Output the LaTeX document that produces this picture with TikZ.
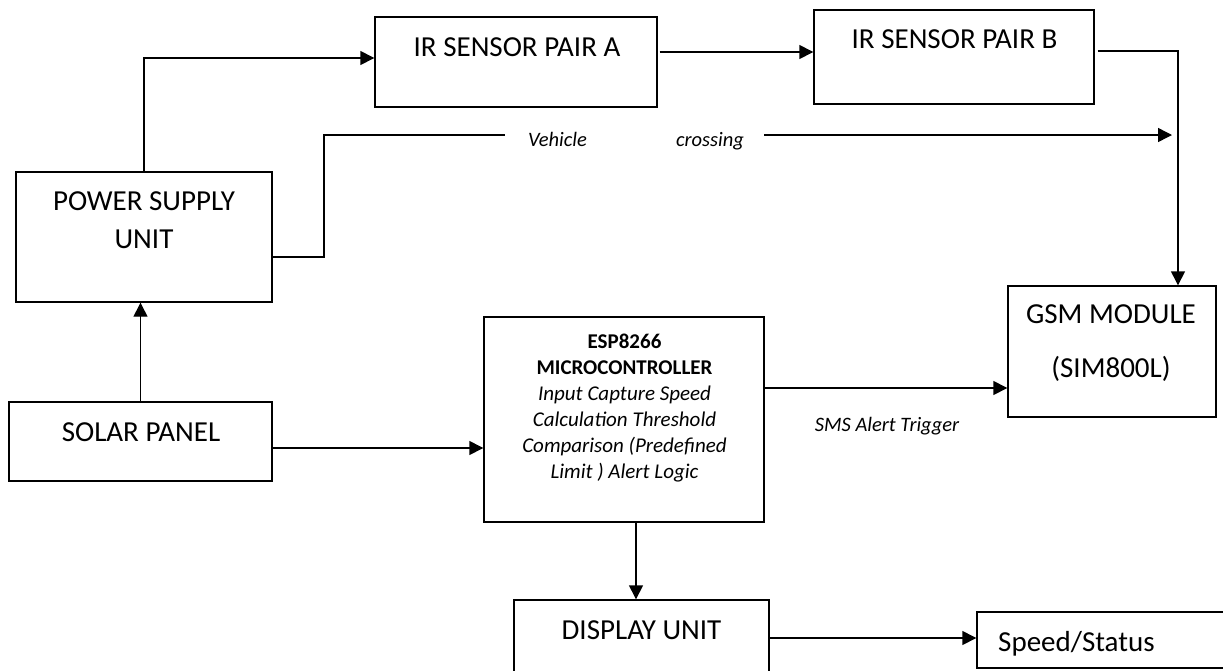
\documentclass[tikz,border=0pt]{standalone}
\usepackage{fontspec}
\setmainfont{Carlito}
\usetikzlibrary{arrows.meta,calc}
\begin{document}
\begin{tikzpicture}[x=1pt,y=-1pt,
  box/.style={draw,line width=1.4pt,rectangle,inner sep=0pt},
  arr/.style={line width=1.4pt,-{Triangle[length=14pt,width=14pt]}},
  ln/.style={line width=1.4pt},
  big/.style={font=\fontsize{29}{35}\selectfont,inner sep=0pt,anchor=base},
  esb/.style={font=\fontsize{21}{26}\selectfont\bfseries,inner sep=0pt,anchor=base},
  esi/.style={font=\fontsize{21}{26}\selectfont\itshape,inner sep=0pt,anchor=base},
  lab/.style={font=\fontsize{20.5}{25}\selectfont\itshape,inner sep=0pt,anchor=base}]
\useasboundingbox (0,0) rectangle (1223,670);
\clip (0,0) rectangle (1223,670);
% boxes
\node[box,minimum width=256,minimum height=130] (psu) at (144,237) {};
\node[box,minimum width=282,minimum height=90] (ira) at (516,62) {};
\node[box,minimum width=280,minimum height=94] (irb) at (954,57) {};
\node[box,minimum width=208,minimum height=131] (gsm) at (1112,351.5) {};
\node[box,minimum width=263,minimum height=79] (solar) at (140.5,441.5) {};
\node[box,minimum width=280,minimum height=205] (esp) at (624,419.5) {};
\node[box,minimum width=255,minimum height=100] (disp) at (641.5,650) {};
\node[box,minimum width=273,minimum height=56] (speed) at (1113.5,640) {};
% texts
\node[big] (tpsu1) at (144,210) {POWER SUPPLY};
\node[big] (tpsu2) at (144,248) {UNIT};
\node[big] (tira) at (517,56) {IR SENSOR PAIR A};
\node[big] (tirb) at (954.5,48) {IR SENSOR PAIR B};
\node[big] (tgsm1) at (1111,323) {GSM MODULE};
\node[big] (tgsm2) at (1111,377) {(SIM800L)};
\node[big] (tsolar) at (141,441) {SOLAR PANEL};
\node[big] (tdisp) at (641.5,639) {DISPLAY UNIT};
\node[big,anchor=base west] (tspeed) at (998,651) {Speed/Status};
\node[esb] (tesp1) at (624.5,348) {ESP8266};
\node[esb] (tesp2) at (624.5,374) {MICROCONTROLLER};
\node[esi] (tesp3) at (624.5,400) {Input Capture Speed};
\node[esi] (tesp4) at (624.5,426) {Calculation Threshold};
\node[esi] (tesp5) at (624.5,452) {Comparison (Predefined};
\node[esi] (tesp6) at (624.5,478) {Limit ) Alert Logic};
\node[lab] (tveh) at (557.5,146) {Vehicle};
\node[lab] (tcross) at (710,146) {crossing};
\node[lab] (tsms) at (887,431) {SMS Alert Trigger};
% coordinates
\coordinate (vbend) at (324,135);
\coordinate (gapL) at (505,135);
\coordinate (gapR) at (764,135);
\coordinate (vend) at (1172,135);
\coordinate (s1) at ($(solar.east)+(0,6.5)$);
\coordinate (e1) at ($(esp.east)+(0,-31.5)$);
\coordinate (e2) at ($(esp.south)+(12,0)$);
\coordinate (d1) at ($(disp.east)+(0,-12)$);
% connectors
\draw[arr] (psu.north) |- ($(ira.west)+(0,-4)$);
\draw[arr] ($(ira.east)+(2,-10)$) -- ($(irb.west)+(0,-5)$);
\draw[arr] ($(irb.east)+(3,-6)$) -| ($(gsm.north)+(66,0)$);
\draw[ln] ($(psu.east)+(0,20)$) -| (vbend) -- (gapL);
\draw[arr] (gapR) -- (vend);
\draw[arr] (solar.north) -- (solar.north |- psu.south);
\draw[arr] (s1) -- (s1 -| esp.west);
\draw[arr] (e1) -- (e1 -| gsm.west);
\draw[arr] (e2) -- (e2 |- disp.north);
\draw[arr] (d1) -- (d1 -| speed.west);
\end{tikzpicture}
\end{document}
